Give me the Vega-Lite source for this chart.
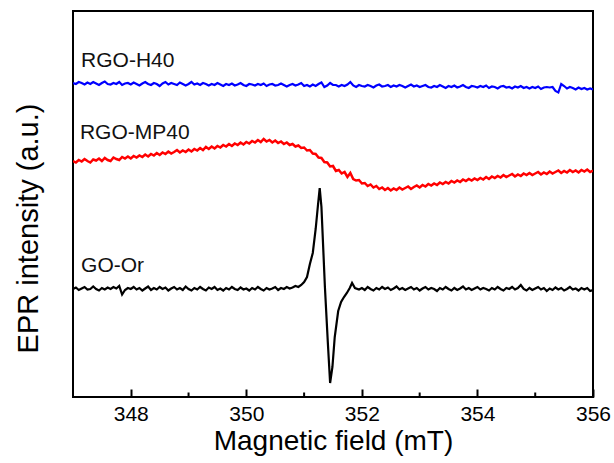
{
"$schema": "https://vega.github.io/schema/vega-lite/v6.json",
"width": 520, "height": 386,
"autosize": "none",
"padding": {"left": 73, "top": 11, "right": 21, "bottom": 66},
"background": "white",
"config": {"view": {"stroke": "black", "strokeWidth": 2}, "font": "Liberation Sans"},
"layer": [
{"data": {"values": [
{"x":347.00,"y":314},{"x":347.05,"y":313},{"x":347.10,"y":315},{"x":347.15,"y":314},{"x":347.20,"y":312.5},{"x":347.25,"y":314.5},{"x":347.30,"y":313},{"x":347.35,"y":315},{"x":347.40,"y":313.5},{"x":347.45,"y":312},{"x":347.50,"y":314},{"x":347.55,"y":315.5},{"x":347.60,"y":313},{"x":347.65,"y":312.5},{"x":347.70,"y":314},{"x":347.75,"y":313},{"x":347.80,"y":315},{"x":347.85,"y":312},{"x":347.90,"y":313.5},{"x":347.95,"y":314},
{"x":348.00,"y":312.5},{"x":348.05,"y":314.5},{"x":348.10,"y":313},{"x":348.15,"y":311.5},{"x":348.20,"y":313.5},{"x":348.25,"y":315},{"x":348.30,"y":313},{"x":348.35,"y":312},{"x":348.40,"y":314},{"x":348.45,"y":313},{"x":348.50,"y":311},{"x":348.55,"y":313.5},{"x":348.60,"y":315},{"x":348.65,"y":312.5},{"x":348.70,"y":314},{"x":348.75,"y":313},{"x":348.80,"y":312},{"x":348.85,"y":314.5},{"x":348.90,"y":313},{"x":348.95,"y":311.5},
{"x":349.00,"y":313},{"x":349.05,"y":315},{"x":349.10,"y":312.5},{"x":349.15,"y":313.5},{"x":349.20,"y":312},{"x":349.25,"y":314},{"x":349.30,"y":313},{"x":349.35,"y":311.5},{"x":349.40,"y":313},{"x":349.45,"y":312},{"x":349.50,"y":314},{"x":349.55,"y":312.5},{"x":349.60,"y":311},{"x":349.65,"y":313},{"x":349.70,"y":312},{"x":349.75,"y":313.5},{"x":349.80,"y":311.5},{"x":349.85,"y":312.5},{"x":349.90,"y":314},{"x":349.95,"y":312},
{"x":350.00,"y":311},{"x":350.05,"y":313},{"x":350.10,"y":312.5},{"x":350.15,"y":311.5},{"x":350.20,"y":313},{"x":350.25,"y":312},{"x":350.30,"y":313.5},{"x":350.35,"y":311},{"x":350.40,"y":312.5},{"x":350.45,"y":313},{"x":350.50,"y":311.5},{"x":350.55,"y":312},{"x":350.60,"y":313.5},{"x":350.65,"y":312},{"x":350.70,"y":310.5},{"x":350.75,"y":312},{"x":350.80,"y":313},{"x":350.85,"y":311.5},{"x":350.90,"y":312.5},{"x":350.95,"y":314},
{"x":351.00,"y":311},{"x":351.05,"y":312},{"x":351.10,"y":310.5},{"x":351.15,"y":312.5},{"x":351.20,"y":311},{"x":351.25,"y":313},{"x":351.30,"y":314.5},{"x":351.35,"y":310},{"x":351.40,"y":311.5},{"x":351.45,"y":314},{"x":351.50,"y":312},{"x":351.55,"y":312},{"x":351.60,"y":310.5},{"x":351.65,"y":312},{"x":351.70,"y":311},{"x":351.75,"y":312.5},{"x":351.80,"y":315},{"x":351.85,"y":311.5},{"x":351.90,"y":310},{"x":351.95,"y":312},
{"x":352.00,"y":311},{"x":352.05,"y":310.5},{"x":352.10,"y":312},{"x":352.15,"y":311},{"x":352.20,"y":309.5},{"x":352.25,"y":311.5},{"x":352.30,"y":312.5},{"x":352.35,"y":310.5},{"x":352.40,"y":311},{"x":352.45,"y":312},{"x":352.50,"y":310},{"x":352.55,"y":311.5},{"x":352.60,"y":310.5},{"x":352.65,"y":312},{"x":352.70,"y":311},{"x":352.75,"y":309.5},{"x":352.80,"y":311},{"x":352.85,"y":312.5},{"x":352.90,"y":310.5},{"x":352.95,"y":311.5},
{"x":353.00,"y":310},{"x":353.05,"y":311},{"x":353.10,"y":312},{"x":353.15,"y":310},{"x":353.20,"y":309.5},{"x":353.25,"y":311},{"x":353.30,"y":310},{"x":353.35,"y":312},{"x":353.40,"y":310.5},{"x":353.45,"y":309},{"x":353.50,"y":311},{"x":353.55,"y":310},{"x":353.60,"y":311.5},{"x":353.65,"y":309.5},{"x":353.70,"y":310.5},{"x":353.75,"y":312},{"x":353.80,"y":310},{"x":353.85,"y":309},{"x":353.90,"y":311},{"x":353.95,"y":310.5},
{"x":354.00,"y":309.5},{"x":354.05,"y":311},{"x":354.10,"y":310},{"x":354.15,"y":311.5},{"x":354.20,"y":309},{"x":354.25,"y":310.5},{"x":354.30,"y":310},{"x":354.35,"y":308.5},{"x":354.40,"y":310.5},{"x":354.45,"y":311},{"x":354.50,"y":309.5},{"x":354.55,"y":310},{"x":354.60,"y":308.5},{"x":354.65,"y":310.5},{"x":354.70,"y":309.5},{"x":354.75,"y":311},{"x":354.80,"y":309},{"x":354.85,"y":310},{"x":354.90,"y":308.5},{"x":354.95,"y":310},
{"x":355.00,"y":309},{"x":355.05,"y":310.5},{"x":355.10,"y":308},{"x":355.15,"y":309.5},{"x":355.20,"y":310},{"x":355.25,"y":309.5},{"x":355.30,"y":310},{"x":355.35,"y":306},{"x":355.40,"y":304.5},{"x":355.45,"y":313},{"x":355.50,"y":311},{"x":355.55,"y":308.5},{"x":355.60,"y":310},{"x":355.65,"y":309},{"x":355.70,"y":307.5},{"x":355.75,"y":309.5},{"x":355.80,"y":308},{"x":355.85,"y":309},{"x":355.90,"y":307.5},{"x":355.95,"y":308.5},{"x":356.00,"y":307.5}
]},
"mark": {"type": "line", "color": "#0000ff", "strokeWidth": 2.2, "clip": true},
"encoding": {
 "x": {"field": "x", "type": "quantitative", "scale": {"domain": [347, 356], "nice": false, "zero": false},
  "axis": {"title": "Magnetic field (mT)", "values": [348,350,352,354,356], "format": "d",
   "tickSize": -8, "tickWidth": 2, "tickColor": "black", "domain": false, "grid": false,
   "labelFontSize": 21, "labelColor": "black", "labelFlush": false, "labelOverlap": false, "labelPadding": 14,
   "titleFontSize": 28, "titleFontWeight": "normal", "titleColor": "black", "titlePadding": 3}},
 "y": {"field": "y", "type": "quantitative", "scale": {"domain": [0, 386], "nice": false, "zero": false},
  "axis": {"title": "EPR intensity (a.u.)", "labels": false, "ticks": false, "domain": false, "grid": false,
   "titleFontSize": 29, "titleFontWeight": "normal", "titleColor": "black", "titlePadding": 30, "titleY": 217}}
}},
{"data": {"values": [
{"x":347.00,"y":236},{"x":347.05,"y":234.5},{"x":347.10,"y":237},{"x":347.15,"y":235.5},{"x":347.20,"y":238},{"x":347.25,"y":236},{"x":347.30,"y":234.5},{"x":347.35,"y":237.5},{"x":347.40,"y":236.5},{"x":347.45,"y":238.5},{"x":347.50,"y":236},{"x":347.55,"y":239},{"x":347.60,"y":237},{"x":347.65,"y":236},{"x":347.70,"y":239.5},{"x":347.75,"y":238},{"x":347.80,"y":237},{"x":347.85,"y":240},{"x":347.90,"y":238.5},{"x":347.95,"y":240.5},
{"x":348.00,"y":238.5},{"x":348.05,"y":241},{"x":348.10,"y":239.5},{"x":348.15,"y":241.5},{"x":348.20,"y":240},{"x":348.25,"y":242.5},{"x":348.30,"y":240.5},{"x":348.35,"y":243},{"x":348.40,"y":241.5},{"x":348.45,"y":244},{"x":348.50,"y":242},{"x":348.55,"y":244.5},{"x":348.60,"y":243},{"x":348.65,"y":245.5},{"x":348.70,"y":243.5},{"x":348.75,"y":245},{"x":348.80,"y":247},{"x":348.85,"y":244.5},{"x":348.90,"y":246.5},{"x":348.95,"y":245},
{"x":349.00,"y":247.5},{"x":349.05,"y":245.5},{"x":349.10,"y":248},{"x":349.15,"y":246.5},{"x":349.20,"y":249},{"x":349.25,"y":247},{"x":349.30,"y":250},{"x":349.35,"y":248},{"x":349.40,"y":250.5},{"x":349.45,"y":248.5},{"x":349.50,"y":251},{"x":349.55,"y":249.5},{"x":349.60,"y":252},{"x":349.65,"y":250.5},{"x":349.70,"y":253},{"x":349.75,"y":251},{"x":349.80,"y":253.5},{"x":349.85,"y":252},{"x":349.90,"y":254.5},{"x":349.95,"y":252.5},
{"x":350.00,"y":255},{"x":350.05,"y":253.5},{"x":350.10,"y":256},{"x":350.15,"y":254.5},{"x":350.20,"y":257},{"x":350.25,"y":255},{"x":350.30,"y":258},{"x":350.35,"y":255.5},{"x":350.40,"y":257},{"x":350.45,"y":254.5},{"x":350.50,"y":256.5},{"x":350.55,"y":254},{"x":350.60,"y":255.5},{"x":350.65,"y":253},{"x":350.70,"y":254.5},{"x":350.75,"y":252},{"x":350.80,"y":253},{"x":350.85,"y":250.5},{"x":350.90,"y":251.5},{"x":350.95,"y":249},
{"x":351.00,"y":249.5},{"x":351.05,"y":246.5},{"x":351.10,"y":247},{"x":351.15,"y":243.5},{"x":351.20,"y":243},{"x":351.25,"y":239.5},{"x":351.30,"y":239},{"x":351.35,"y":235},{"x":351.40,"y":234.5},{"x":351.45,"y":230.5},{"x":351.50,"y":231},{"x":351.55,"y":226},{"x":351.60,"y":227},{"x":351.65,"y":223.5},{"x":351.70,"y":225},{"x":351.75,"y":220},{"x":351.80,"y":224},{"x":351.85,"y":218},{"x":351.90,"y":216.5},{"x":351.95,"y":217},
{"x":352.00,"y":213.5},{"x":352.05,"y":214},{"x":352.10,"y":211},{"x":352.15,"y":212.5},{"x":352.20,"y":209.5},{"x":352.25,"y":211},{"x":352.30,"y":208},{"x":352.35,"y":209.5},{"x":352.40,"y":207},{"x":352.45,"y":209},{"x":352.50,"y":206.5},{"x":352.55,"y":208.5},{"x":352.60,"y":207},{"x":352.65,"y":209.5},{"x":352.70,"y":207.5},{"x":352.75,"y":209},{"x":352.80,"y":210.5},{"x":352.85,"y":208},{"x":352.90,"y":210},{"x":352.95,"y":211.5},
{"x":353.00,"y":209.5},{"x":353.05,"y":212},{"x":353.10,"y":210.5},{"x":353.15,"y":213},{"x":353.20,"y":211.5},{"x":353.25,"y":213.5},{"x":353.30,"y":212},{"x":353.35,"y":214.5},{"x":353.40,"y":213},{"x":353.45,"y":215},{"x":353.50,"y":213.5},{"x":353.55,"y":216},{"x":353.60,"y":214.5},{"x":353.65,"y":216.5},{"x":353.70,"y":215},{"x":353.75,"y":217.5},{"x":353.80,"y":216},{"x":353.85,"y":218},{"x":353.90,"y":216.5},{"x":353.95,"y":218.5},
{"x":354.00,"y":217},{"x":354.05,"y":219},{"x":354.10,"y":217.5},{"x":354.15,"y":220},{"x":354.20,"y":218},{"x":354.25,"y":220.5},{"x":354.30,"y":219},{"x":354.35,"y":221},{"x":354.40,"y":219.5},{"x":354.45,"y":222},{"x":354.50,"y":220},{"x":354.55,"y":221.5},{"x":354.60,"y":223},{"x":354.65,"y":220.5},{"x":354.70,"y":222.5},{"x":354.75,"y":221},{"x":354.80,"y":223.5},{"x":354.85,"y":222},{"x":354.90,"y":224},{"x":354.95,"y":222},
{"x":355.00,"y":223.5},{"x":355.05,"y":225},{"x":355.10,"y":222.5},{"x":355.15,"y":224.5},{"x":355.20,"y":223},{"x":355.25,"y":225.5},{"x":355.30,"y":223.5},{"x":355.35,"y":225},{"x":355.40,"y":226.5},{"x":355.45,"y":224},{"x":355.50,"y":226},{"x":355.55,"y":224.5},{"x":355.60,"y":227},{"x":355.65,"y":225},{"x":355.70,"y":226.5},{"x":355.75,"y":224.5},{"x":355.80,"y":227},{"x":355.85,"y":225.5},{"x":355.90,"y":227.5},{"x":355.95,"y":225},{"x":356.00,"y":226.5}
]},
"mark": {"type": "line", "color": "#ff0000", "strokeWidth": 2.5, "clip": true},
"encoding": {"x": {"field": "x", "type": "quantitative"}, "y": {"field": "y", "type": "quantitative"}}
},
{"data": {"values": [
{"x":347.00,"y":108},{"x":347.05,"y":109.5},{"x":347.10,"y":107},{"x":347.15,"y":108.5},{"x":347.20,"y":110},{"x":347.25,"y":107.5},{"x":347.30,"y":108},{"x":347.35,"y":110.5},{"x":347.40,"y":108},{"x":347.45,"y":106.5},{"x":347.50,"y":109},{"x":347.55,"y":107.5},{"x":347.60,"y":109.5},{"x":347.65,"y":108},{"x":347.70,"y":110},{"x":347.75,"y":108.5},{"x":347.80,"y":111},{"x":347.85,"y":102.5},{"x":347.90,"y":107},{"x":347.95,"y":109},
{"x":348.00,"y":108},{"x":348.05,"y":110},{"x":348.10,"y":107.5},{"x":348.15,"y":109},{"x":348.20,"y":106.5},{"x":348.25,"y":108.5},{"x":348.30,"y":110.5},{"x":348.35,"y":107},{"x":348.40,"y":109},{"x":348.45,"y":107.5},{"x":348.50,"y":110},{"x":348.55,"y":108},{"x":348.60,"y":109.5},{"x":348.65,"y":106.5},{"x":348.70,"y":108.5},{"x":348.75,"y":110},{"x":348.80,"y":107.5},{"x":348.85,"y":109},{"x":348.90,"y":107},{"x":348.95,"y":110.5},
{"x":349.00,"y":108},{"x":349.05,"y":106.5},{"x":349.10,"y":109},{"x":349.15,"y":107.5},{"x":349.20,"y":110},{"x":349.25,"y":108},{"x":349.30,"y":106.5},{"x":349.35,"y":109.5},{"x":349.40,"y":108},{"x":349.45,"y":110},{"x":349.50,"y":107},{"x":349.55,"y":108.5},{"x":349.60,"y":106.5},{"x":349.65,"y":109},{"x":349.70,"y":107.5},{"x":349.75,"y":110},{"x":349.80,"y":108},{"x":349.85,"y":107},{"x":349.90,"y":109.5},{"x":349.95,"y":107.5},
{"x":350.00,"y":108.5},{"x":350.05,"y":106.5},{"x":350.10,"y":109},{"x":350.15,"y":107.5},{"x":350.20,"y":110},{"x":350.25,"y":108},{"x":350.30,"y":106.5},{"x":350.35,"y":109},{"x":350.40,"y":107.5},{"x":350.45,"y":108.5},{"x":350.50,"y":110},{"x":350.55,"y":107},{"x":350.60,"y":109},{"x":350.65,"y":108},{"x":350.70,"y":110},{"x":350.75,"y":108.5},{"x":350.80,"y":109.5},{"x":350.85,"y":111},{"x":350.90,"y":110},{"x":350.95,"y":112},
{"x":351.00,"y":115},{"x":351.05,"y":120},{"x":351.10,"y":133},{"x":351.15,"y":144},{"x":351.20,"y":168},{"x":351.24,"y":192},{"x":351.27,"y":209},{"x":351.30,"y":190},{"x":351.36,"y":110},{"x":351.41,"y":55},{"x":351.45,"y":14},{"x":351.49,"y":30},{"x":351.53,"y":60},{"x":351.59,"y":86},{"x":351.64,"y":95},{"x":351.69,"y":100},{"x":351.74,"y":104},{"x":351.79,"y":109},{"x":351.83,"y":114},{"x":351.88,"y":109},{"x":351.95,"y":107.5},
{"x":352.00,"y":109},{"x":352.05,"y":107},{"x":352.10,"y":110},{"x":352.15,"y":108},{"x":352.20,"y":106.5},{"x":352.25,"y":109},{"x":352.30,"y":107.5},{"x":352.35,"y":110},{"x":352.40,"y":108},{"x":352.45,"y":109.5},{"x":352.50,"y":107},{"x":352.55,"y":108.5},{"x":352.60,"y":110.5},{"x":352.65,"y":107.5},{"x":352.70,"y":109},{"x":352.75,"y":107},{"x":352.80,"y":108.5},{"x":352.85,"y":110},{"x":352.90,"y":107.5},{"x":352.95,"y":109},
{"x":353.00,"y":106.5},{"x":353.05,"y":108.5},{"x":353.10,"y":110},{"x":353.15,"y":107.5},{"x":353.20,"y":109},{"x":353.25,"y":108},{"x":353.30,"y":106},{"x":353.35,"y":109},{"x":353.40,"y":107.5},{"x":353.45,"y":110},{"x":353.50,"y":108},{"x":353.55,"y":106.5},{"x":353.60,"y":109},{"x":353.65,"y":107},{"x":353.70,"y":108.5},{"x":353.75,"y":110.5},{"x":353.80,"y":107.5},{"x":353.85,"y":109},{"x":353.90,"y":107},{"x":353.95,"y":108.5},
{"x":354.00,"y":110},{"x":354.05,"y":107.5},{"x":354.10,"y":109},{"x":354.15,"y":108},{"x":354.20,"y":106.5},{"x":354.25,"y":109},{"x":354.30,"y":107.5},{"x":354.35,"y":110},{"x":354.40,"y":108},{"x":354.45,"y":106.5},{"x":354.50,"y":109},{"x":354.55,"y":108},{"x":354.60,"y":110},{"x":354.65,"y":107.5},{"x":354.70,"y":109},{"x":354.75,"y":112},{"x":354.80,"y":108},{"x":354.85,"y":106.5},{"x":354.90,"y":109},{"x":354.95,"y":107},
{"x":355.00,"y":108.5},{"x":355.05,"y":110},{"x":355.10,"y":107.5},{"x":355.15,"y":109},{"x":355.20,"y":106},{"x":355.25,"y":108.5},{"x":355.30,"y":107},{"x":355.35,"y":109.5},{"x":355.40,"y":107.5},{"x":355.45,"y":109},{"x":355.50,"y":106.5},{"x":355.55,"y":108},{"x":355.60,"y":110},{"x":355.65,"y":107.5},{"x":355.70,"y":108.5},{"x":355.75,"y":106.5},{"x":355.80,"y":109},{"x":355.85,"y":107.5},{"x":355.90,"y":109},{"x":355.95,"y":106},{"x":356.00,"y":107}
]},
"mark": {"type": "line", "color": "#000000", "strokeWidth": 2.2, "clip": true},
"encoding": {"x": {"field": "x", "type": "quantitative"}, "y": {"field": "y", "type": "quantitative"}}
},
{"data": {"values": [{"x": 349}, {"x": 351}, {"x": 353}, {"x": 355}]},
"mark": {"type": "rule", "color": "black", "strokeWidth": 2},
"encoding": {"x": {"field": "x", "type": "quantitative"}, "y": {"datum": 0}, "y2": {"datum": 4.5}}
},
{"data": {"values": [
{"label": "RGO-H40", "x": 347.14, "y": 330},
{"label": "RGO-MP40", "x": 347.12, "y": 258},
{"label": "GO-Or", "x": 347.14, "y": 125}
]},
"mark": {"type": "text", "align": "left", "baseline": "alphabetic", "fontSize": 21, "color": "#111111", "font": "Liberation Sans"},
"encoding": {"x": {"field": "x", "type": "quantitative"}, "y": {"field": "y", "type": "quantitative"}, "text": {"field": "label"}}
}
]
}
